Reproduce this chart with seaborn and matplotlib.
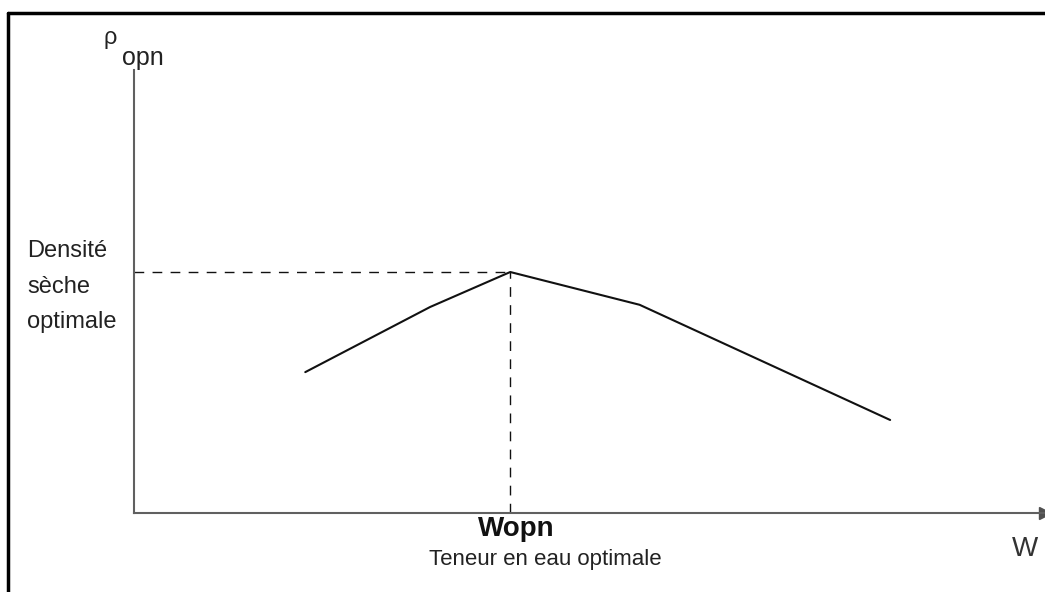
import numpy as np
import pandas as pd
import seaborn as sns
import matplotlib.pyplot as plt
from matplotlib.lines import Line2D

# compaction curve (arbitrary units)
teneur = [18.8, 32.5, 41.3, 55.5, 83.0]
densite = [31.8, 46.5, 54.4, 47.0, 21.0]

df = pd.DataFrame({'W': teneur, 'rho': densite})

sns.set_style('white')
plt.rcParams['font.family'] = ['Liberation Sans', 'DejaVu Sans']

W, H = 1045, 592
fig = plt.figure(figsize=(W / 100, H / 100), dpi=100)
fig.patch.set_facecolor('white')

def fx(px):
    return px / W

def fy(py):
    return 1 - py / H

ax = fig.add_axes([fx(134), fy(513), 1 - fx(134), (513 - 70) / H])
sns.lineplot(data=df, x='W', y='rho', sort=False, color='#111111', linewidth=1.5, ax=ax)

# dashed guides at the optimum
i_opt = int(np.argmax(densite))
w_opt, d_opt = teneur[i_opt], densite[i_opt]
ax.hlines(d_opt, 0, w_opt, colors='#111111', linewidth=1.0, linestyles=(0, (7, 6)))
ax.vlines(w_opt, 0, d_opt, colors='#111111', linewidth=1.0, linestyles=(0, (7, 6)))

ax.set_xlim(0, 100)
ax.set_ylim(0, 100)
ax.set_xticks([])
ax.set_yticks([])
ax.set_xlabel('')
ax.set_ylabel('')
ax.set_facecolor('none')
for s in ['top', 'right']:
    ax.spines[s].set_visible(False)
for s in ['left', 'bottom']:
    ax.spines[s].set_color('#606060')
    ax.spines[s].set_linewidth(1.5)
ax.plot(1, 0, '>', color='#505050', markersize=8, transform=ax.transAxes, clip_on=False)

# texts
fig.text(fx(110), fy(38), 'ρ', fontsize=17, ha='center', va='center', color='#222222')
fig.text(fx(143), fy(58), 'opn', fontsize=18, ha='center', va='center', color='#222222')
fig.text(fx(27), fy(251), 'Densité', fontsize=17, ha='left', va='center', color='#222222')
fig.text(fx(27), fy(287), 'sèche', fontsize=17, ha='left', va='center', color='#222222')
fig.text(fx(27), fy(322), 'optimale', fontsize=17, ha='left', va='center', color='#222222')
fig.text(fx(516), fy(529), 'Wopn', fontsize=20, fontweight='bold', ha='center', va='center', color='#111111')
fig.text(fx(545), fy(560), 'Teneur en eau optimale', fontsize=16, ha='center', va='center', color='#222222')
fig.text(fx(1025), fy(549), 'W', fontsize=20, ha='center', va='center', color='#333333')

# frame border (left and top only)
fig.add_artist(Line2D([fx(8), fx(8)], [fy(13), 0], color='black', linewidth=2.5, transform=fig.transFigure))
fig.add_artist(Line2D([fx(8), 1], [fy(13), fy(13)], color='black', linewidth=2.5, transform=fig.transFigure))

fig.savefig('out.png', dpi=100)
